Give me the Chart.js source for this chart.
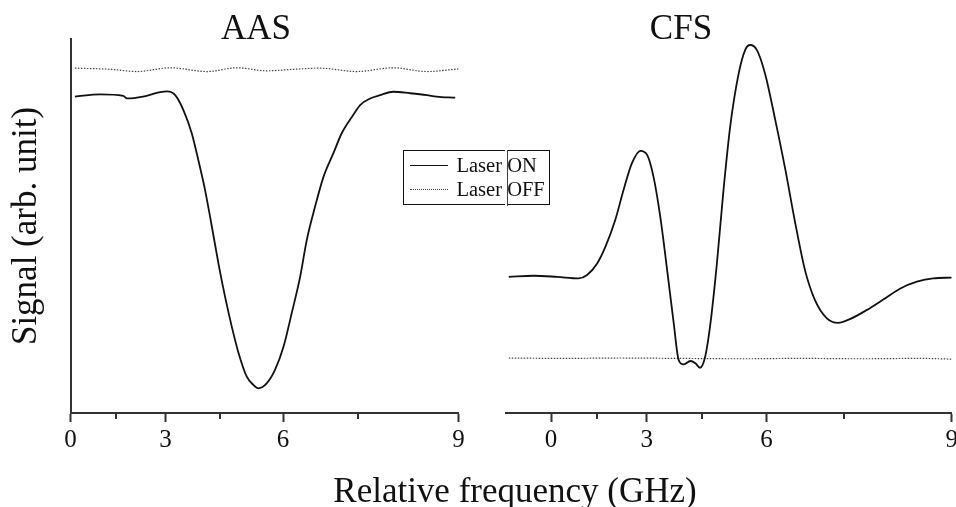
<!DOCTYPE HTML><html>
<head>
  <title>AAS / CFS signal</title>
  <meta name="viewport" content="width=device-width, initial-scale=1">
  <style>
  html, body {
    margin: 0;
    background: #fff;
  }
  body {
    font-family: 'Liberation Serif', 'Times New Roman', serif;
    color: #111;
  }
  .page {
    position: relative;
    width: 956px;
    height: 507px;
    overflow: hidden;
  }
  canvas {
    position: absolute;
    top: 0;
  }
  #aas-chart { left: 0; }
  #cfs-chart { left: 478px; }

  .panel-title {
    position: absolute;
    top: 10px;
    width: 120px;
    font-size: 35px;
    line-height: 35px;
    text-align: center;
  }
  .x-title {
    position: absolute;
    left: 315px;
    width: 400px;
    top: 473px;
    font-size: 35px;
    line-height: 35px;
    text-align: center;
  }

  .legend {
    position: absolute;
    left: 403px;
    top: 150px;
    width: 147px;
    height: 55px;
    border: 1.5px solid #111;
    box-sizing: border-box;
    background: #fff;
  }
  /* the box in the original is cut where the two panels meet */
  .legend::before {
    content: '';
    position: absolute;
    left: 101px;
    top: -2px;
    bottom: -2px;
    width: 1.5px;
    background: #fff;
  }
  .legend::after {
    content: '';
    position: absolute;
    left: 102.5px;
    top: -1.5px;
    bottom: -1.5px;
    width: 1px;
    background: #444;
  }
  .legend .row {
    position: absolute;
    left: 0;
    height: 24px;
    display: flex;
    align-items: center;
    font-size: 20.5px;
    line-height: 24px;
    white-space: nowrap;
  }
  .legend .swatch {
    width: 38px;
    height: 0;
    margin: 0 9px 0 5.5px;
  }
  </style>
  <script src="https://cdn.jsdelivr.net/npm/chart.js"></script>
</head>
<body>
<div class="page">
  <canvas id="aas-chart" width="478" height="507"></canvas>
  <canvas id="cfs-chart" width="478" height="507"></canvas>
  <div class="panel-title" id="title-0" style="left:196px"></div>
  <div class="panel-title" id="title-1" style="left:621px"></div>
  <div class="x-title" id="x-title"></div>
  <div class="legend" id="legend"></div>
</div>

<script>
  // ---- data (GHz vs arb. unit) ----
  var panelTitles = ['AAS', 'CFS'];
  var seriesNames = ['Laser ON', 'Laser OFF'];
  var xTitle = 'Relative frequency (GHz)';
  var yTitle = 'Signal (arb. unit)';

  var tickValues = [0, 1.5, 3, 4.5, 6, 7.5, 9];
  var tickLabels = ['0', '', '3', '', '6', '', '9'];

  var aasOnX = [0.15, 0.99, 1.73, 1.85, 2.34, 2.85, 3.05, 3.28, 3.51, 3.74,
                3.92, 4.10, 4.28, 4.45, 4.62, 4.79, 4.96, 5.16, 5.32, 5.44,
                5.63, 5.82, 6.01, 6.19, 6.37, 6.51, 6.68, 6.85, 7.04, 7.20,
                7.39, 7.54, 7.71, 7.88, 8.09, 8.35, 8.59, 8.72, 8.96];
  var aasOnY = [84.6, 85.2, 84.8, 84.1, 84.6, 85.8, 86.0, 85.0, 81.0, 74.8,
                67.6, 59.6, 49.8, 40.0, 31.1, 23.1, 16.0, 9.7, 7.5, 6.6,
                7.9, 11.5, 17.7, 26.7, 36.4, 46.3, 55.2, 63.2, 69.4, 74.8,
                79.2, 82.4, 84.1, 85.0, 85.9, 85.5, 85.0, 84.6, 84.3];

  var aasOffX = [0.15, 1.32, 2.15, 3.14, 4.15, 4.92, 5.63, 6.23, 6.78, 7.48, 8.09, 8.59, 9.0];
  var aasOffY = [92.2, 91.9, 91.3, 92.3, 91.3, 92.3, 91.5, 91.9, 92.2, 91.3, 92.3, 91.3, 92.0];

  var cfsOnX = [-1.50, -0.60, 0.20, 0.92, 1.19, 1.51, 1.77, 2.07, 2.32, 2.57,
                2.82, 3.01, 3.19, 3.38, 3.57, 3.75, 3.88, 4.01, 4.19, 4.32,
                4.44, 4.57, 4.70, 4.86, 5.02, 5.18, 5.38, 5.53, 5.64, 5.79,
                5.97, 6.19, 6.40, 6.60, 6.79, 6.98, 7.20, 7.40, 7.60, 7.87,
                8.13, 8.37, 8.59, 8.79, 9.0];
  var cfsOnY = [36.4, 36.7, 36.4, 36.0, 36.9, 40.0, 44.5, 51.6, 59.6, 66.8,
                70.1, 69.0, 63.2, 52.5, 38.2, 23.9, 14.2, 13.0, 13.9, 13.3,
                12.1, 15.1, 23.9, 40.0, 59.6, 76.6, 90.8, 97.1, 98.4, 97.1,
                90.8, 78.3, 65.0, 50.7, 38.2, 30.2, 25.3, 24.1, 25.1, 27.5,
                30.4, 33.3, 35.1, 36.0, 36.2];

  var cfsOffX = [-1.50, 0.32, 2.22, 3.93, 5.42, 6.70, 7.77, 8.63, 9.0];
  var cfsOffY = [14.7, 14.6, 14.7, 14.6, 14.5, 14.6, 14.5, 14.6, 14.4];

  // the laser sweep is not linear in frequency: f = 9*(a*u - (a-1)*u^2), u = sweep position
  class SweepScale extends Chart.LinearScale {
    sweepPos(v) {
      var a = this.options.bend || 1.5;
      return (a - Math.sqrt(a * a - 4 * (a - 1) * v / 9)) / (2 * (a - 1));
    }
    getPixelForValue(v) {
      if (v === null || v === undefined || isNaN(v)) return NaN;
      var u0 = this.sweepPos(this.min), u1 = this.sweepPos(this.max);
      return this.getPixelForDecimal((this.sweepPos(v) - u0) / (u1 - u0));
    }
    getValueForPixel(p) {
      var a = this.options.bend || 1.5;
      var u0 = this.sweepPos(this.min), u1 = this.sweepPos(this.max);
      var u = u0 + this.getDecimalForPixel(p) * (u1 - u0);
      return 9 * (a * u - (a - 1) * u * u);
    }
  }
  SweepScale.id = 'sweep';
  SweepScale.defaults = {};
  Chart.register(SweepScale);

  Chart.defaults.font.family = "'Liberation Serif', 'Times New Roman', serif";
  Chart.defaults.color = '#111';

  var axisColor = '#333';

  // short ticks between the labelled ones
  var minorTicks = {
    id: 'minorTicks',
    afterDraw: function(chart) {
      var s = chart.scales.x, ctx = chart.ctx;
      ctx.save();
      ctx.strokeStyle = axisColor;
      ctx.lineWidth = 2;
      s.ticks.forEach(function(t, i) {
        if (tickLabels[i] !== '') return;
        var px = Math.round(s.getPixelForValue(t.value));
        ctx.beginPath();
        ctx.moveTo(px, s.top);
        ctx.lineTo(px, s.top + 6);
        ctx.stroke();
      });
      ctx.restore();
    }
  };

  function toPoints(xs, ys) {
    return xs.map(function(x, i) { return {x: x, y: ys[i]}; });
  }

  function makePanel(id, onX, onY, offX, offY, opt) {
    return new Chart(document.getElementById(id), {
      type: 'line',
      data: {
        datasets: [{
          label: seriesNames[0],
          data: toPoints(onX, onY),
          borderColor: '#111',
          borderWidth: 1.8,
          pointRadius: 0,
          cubicInterpolationMode: 'monotone'
        }, {
          label: seriesNames[1],
          data: toPoints(offX, offY),
          borderColor: '#444',
          borderWidth: 1.2,
          borderDash: [1.5, 1.5],
          pointRadius: 0,
          cubicInterpolationMode: 'monotone'
        }]
      },
      options: {
        responsive: false,
        animation: false,
        events: [],
        layout: { padding: { top: 39, bottom: 0, left: opt.padLeft, right: opt.padRight } },
        plugins: {
          legend: { display: false },
          tooltip: { enabled: false }
        },
        scales: {
          x: {
            type: 'sweep',
            bend: opt.bend,
            min: opt.xMin,
            max: 9,
            afterBuildTicks: function(s) {
              s.ticks = tickValues.map(function(v) { return {value: v}; });
            },
            afterFit: function(s) {
              s.height = 94;
              s.paddingLeft = 0;
              s.paddingRight = 0;
            },
            border: { display: true, color: axisColor, width: 2 },
            grid: {
              drawOnChartArea: false,
              drawTicks: true,
              tickLength: 9,
              tickWidth: 2,
              tickColor: function(c) {
                return (c.tick && tickLabels[c.index] === '') ? 'rgba(0,0,0,0)' : axisColor;
              }
            },
            ticks: {
              autoSkip: false,
              maxRotation: 0,
              padding: 3,
              font: { size: 25 },
              color: '#111',
              callback: function(v, i) { return tickLabels[i]; }
            }
          },
          y: {
            display: opt.showY,
            min: 0,
            max: 100,
            afterFit: function(s) { s.width = opt.yWidth; },
            border: { display: true, color: axisColor, width: 2 },
            grid: { display: false },
            ticks: { display: false },
            title: {
              display: true,
              text: yTitle,
              font: { size: 35 },
              color: '#111',
              padding: { top: 6, bottom: 0 }
            }
          }
        }
      },
      plugins: [minorTicks]
    });
  }

  makePanel('aas-chart', aasOnX, aasOnY, aasOffX, aasOffY,
            {bend: 1.48, xMin: 0, padLeft: 0, padRight: 19.5, showY: true, yWidth: 70.5});
  makePanel('cfs-chart', cfsOnX, cfsOnY, cfsOffX, cfsOffY,
            {bend: 1.52, xMin: -1.6, padLeft: 28, padRight: 4.3, showY: false, yWidth: 0});

  document.getElementById('title-0').textContent = panelTitles[0];
  document.getElementById('title-1').textContent = panelTitles[1];
  document.getElementById('x-title').textContent = xTitle;

  // legend box built from the series names
  var legend = document.getElementById('legend');
  seriesNames.forEach(function(name, i) {
    var row = document.createElement('div');
    row.className = 'row';
    row.style.top = (2.4 + 24 * i) + 'px';
    var sw = document.createElement('span');
    sw.className = 'swatch';
    sw.style.borderTop = i === 0 ? '1.5px solid #111' : '1px dotted #444';
    var txt = document.createElement('span');
    txt.textContent = name;
    row.appendChild(sw);
    row.appendChild(txt);
    legend.appendChild(row);
  });
</script>
</body>
</html>
